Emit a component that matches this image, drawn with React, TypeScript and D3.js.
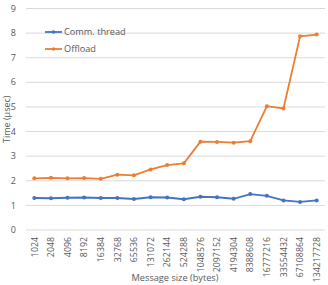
import React from "react";
import * as d3 from "d3";

const sizes = [
  "1024", "2048", "4096", "8192", "16384", "32768", "65536", "131072", "262144",
  "524288", "1048576", "2097152", "4194304", "8388608", "16777216", "33554432",
  "67108864", "134217728",
];
const commThread = [1.3, 1.29, 1.31, 1.32, 1.3, 1.3, 1.26, 1.33, 1.32, 1.25, 1.35, 1.33, 1.27, 1.46, 1.39, 1.2, 1.14, 1.2];
const offload = [2.1, 2.12, 2.1, 2.11, 2.08, 2.25, 2.22, 2.46, 2.64, 2.71, 3.59, 3.58, 3.55, 3.61, 5.03, 4.94, 7.87, 7.94];
const yTicks = [0, 1, 2, 3, 4, 5, 6, 7, 8, 9];

const W = 328;
const H = 285;
const blue = "#4472C4";
const orange = "#ED7D31";
const textColor = "#595959";
const font = "'Open Sans', 'Liberation Sans', sans-serif";

function App() {
  const x = d3.scaleBand().domain(sizes).range([26, 325]);
  const y = d3.scaleLinear().domain([0, 9]).range([230, 8.5]);
  const cx = (d: string) => (x(d) ?? 0) + x.bandwidth() / 2;

  const line = d3
    .line<number>()
    .x((_, i) => cx(sizes[i]))
    .y((v) => y(v));

  const series = [
    { name: "Comm. thread", values: commThread, color: blue },
    { name: "Offload", values: offload, color: orange },
  ];

  return (
    <svg
      width={W}
      height={H}
      style={{ position: "absolute", left: 0, top: 0, background: "#fff" }}
      fontFamily={font}
    >
      {yTicks.map((t) => (
        <g key={t}>
          <line x1={26} x2={325} y1={y(t)} y2={y(t)} stroke="#D9D9D9" strokeWidth={1} />
          <text x={16} y={y(t)} dy="0.35em" textAnchor="end" fontSize={9} fill={textColor}>
            {t}
          </text>
        </g>
      ))}

      {sizes.map((s) => (
        <text
          key={s}
          transform={`translate(${cx(s) + 3.2},237) rotate(-90)`}
          textAnchor="end"
          fontSize={8.8}
          fill={textColor}
        >
          {s}
        </text>
      ))}

      {series.map((s) => (
        <g key={s.name}>
          <path d={line(s.values) ?? ""} fill="none" stroke={s.color} strokeWidth={1.8} />
          {s.values.map((v, i) => (
            <circle key={i} cx={cx(sizes[i])} cy={y(v)} r={2} fill={s.color} />
          ))}
        </g>
      ))}

      {series.map((s, i) => (
        <g key={s.name} transform={`translate(45,${32 + i * 17})`}>
          <line x1={0} x2={17} y1={0} y2={0} stroke={s.color} strokeWidth={1.8} />
          <circle cx={8.5} cy={0} r={1.8} fill={s.color} />
          <text x={19} y={0} dy="0.35em" fontSize={9.2} fill={textColor}>
            {s.name}
          </text>
        </g>
      ))}

      <text
        transform={`translate(10,${(y(0) + y(9)) / 2}) rotate(-90)`}
        textAnchor="middle"
        fontSize={9}
        fill={textColor}
      >
        Time (µsec)
      </text>
      <text x={175} y={281} textAnchor="middle" fontSize={9.2} fill={textColor}>
        Message size (bytes)
      </text>
    </svg>
  );
}

export default App;
